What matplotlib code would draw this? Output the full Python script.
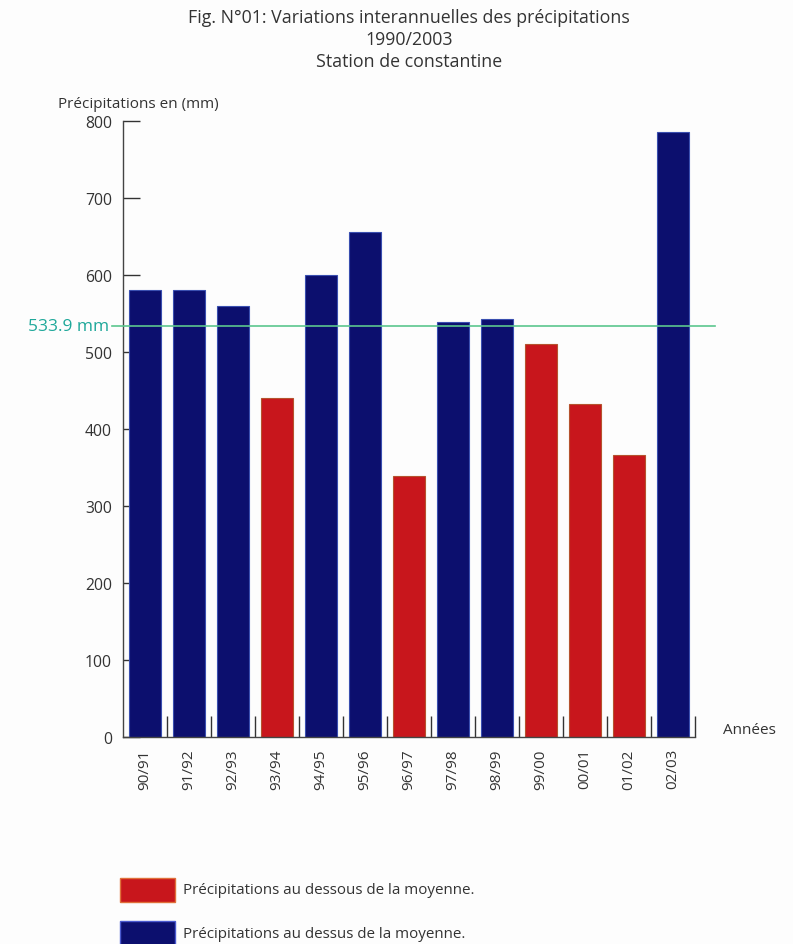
import matplotlib
matplotlib.use("Agg")
import matplotlib.pyplot as plt
from matplotlib.patches import Rectangle

plt.rcParams['font.family'] = ['Open Sans', 'DejaVu Sans']

# précipitations annuelles, station de Constantine
annees = ['90/91', '91/92', '92/93', '93/94', '94/95', '95/96', '96/97',
          '97/98', '98/99', '99/00', '00/01', '01/02', '02/03']
precip = [580, 580, 560, 440, 600, 656, 339, 539, 543, 510, 432, 366, 786]
moyenne = 533.9
yticks = [0, 100, 200, 300, 400, 500, 600, 700, 800]

BLEU = '#0c0f6e'
ROUGE = '#c8161c'
TEXTE = '#333333'

fig = plt.figure(figsize=(7.93, 9.45), dpi=100, facecolor='#fdfdfd')
ax = fig.add_axes([0.1551, 0.2190, 0.7213, 0.6519])
ax.set_facecolor('#fdfdfd')

x = list(range(len(annees)))
couleurs = [ROUGE if v < moyenne else BLEU for v in precip]
bords = ['#b5532e' if v < moyenne else '#3a4fb0' for v in precip]
ax.bar(x, precip, width=0.73, color=couleurs, edgecolor=bords, linewidth=0.8, zorder=2)

ax.set_xlim(-0.5, len(annees) - 0.5)
ax.set_ylim(0, 800)

# axes
for s in ['top', 'right']:
    ax.spines[s].set_visible(False)
for s in ['left', 'bottom']:
    ax.spines[s].set_color('#444444')
    ax.spines[s].set_linewidth(1.0)

ax.set_yticks(yticks)
ax.set_yticklabels([str(v) for v in yticks], fontsize=11.3, color=TEXTE)
ax.tick_params(axis='y', direction='in', length=12, width=1.0, color='#333333', pad=8)
for lab in ax.get_yticklabels():
    lab.set_y(lab.get_position()[1])
    lab.set_va('center_baseline')

ax.set_xticks(x)
ax.set_xticklabels(annees, rotation=90, fontsize=11, color=TEXTE)
ax.tick_params(axis='x', which='major', length=0, pad=8)
ax.set_xticks([i + 0.5 for i in x], minor=True)
ax.tick_params(axis='x', which='minor', direction='in', length=15, width=1.0, color='#333333')

# ligne de la moyenne
ax.plot([-0.75, 12.95], [moyenne, moyenne], color='#5cc68e', linewidth=1.2,
        clip_on=False, zorder=3)
ax.text(-0.82, moyenne, '533.9 mm', ha='right', va='center', fontsize=12.5,
        fontweight='medium', color='#1fa89a')

ax.text(13.14, 10, 'Années', ha='left', va='center', fontsize=11, color=TEXTE)
fig.text(58 / 793, 1 - 104 / 945, 'Précipitations en (mm)', ha='left', va='center',
         fontsize=11, color=TEXTE)

# titre
fig.text(0.516, 1 - 18 / 945, 'Fig. N°01: Variations interannuelles des précipitations',
         ha='center', va='center', fontsize=12.8, color=TEXTE)
fig.text(0.516, 1 - 40 / 945, '1990/2003', ha='center', va='center', fontsize=12.8, color=TEXTE)
fig.text(0.516, 1 - 62 / 945, 'Station de constantine', ha='center', va='center',
         fontsize=12.8, color=TEXTE)

# légende
fig.patches.append(Rectangle((120 / 793, 1 - 903 / 945), 55 / 793, 24 / 945,
                             transform=fig.transFigure, facecolor=ROUGE,
                             edgecolor='#e0703a', linewidth=1.0))
fig.patches.append(Rectangle((120 / 793, 1 - 947 / 945), 55 / 793, 25 / 945,
                             transform=fig.transFigure, facecolor=BLEU,
                             edgecolor='#4a5ad0', linewidth=1.0))
fig.text(183 / 793, 1 - 891 / 945, 'Précipitations au dessous de la moyenne.',
         ha='left', va='center', fontsize=10.9, color=TEXTE)
fig.text(183 / 793, 1 - 935 / 945, 'Précipitations au dessus de la moyenne.',
         ha='left', va='center', fontsize=10.9, color=TEXTE)

fig.savefig('out.png', dpi=100, facecolor=fig.get_facecolor())
